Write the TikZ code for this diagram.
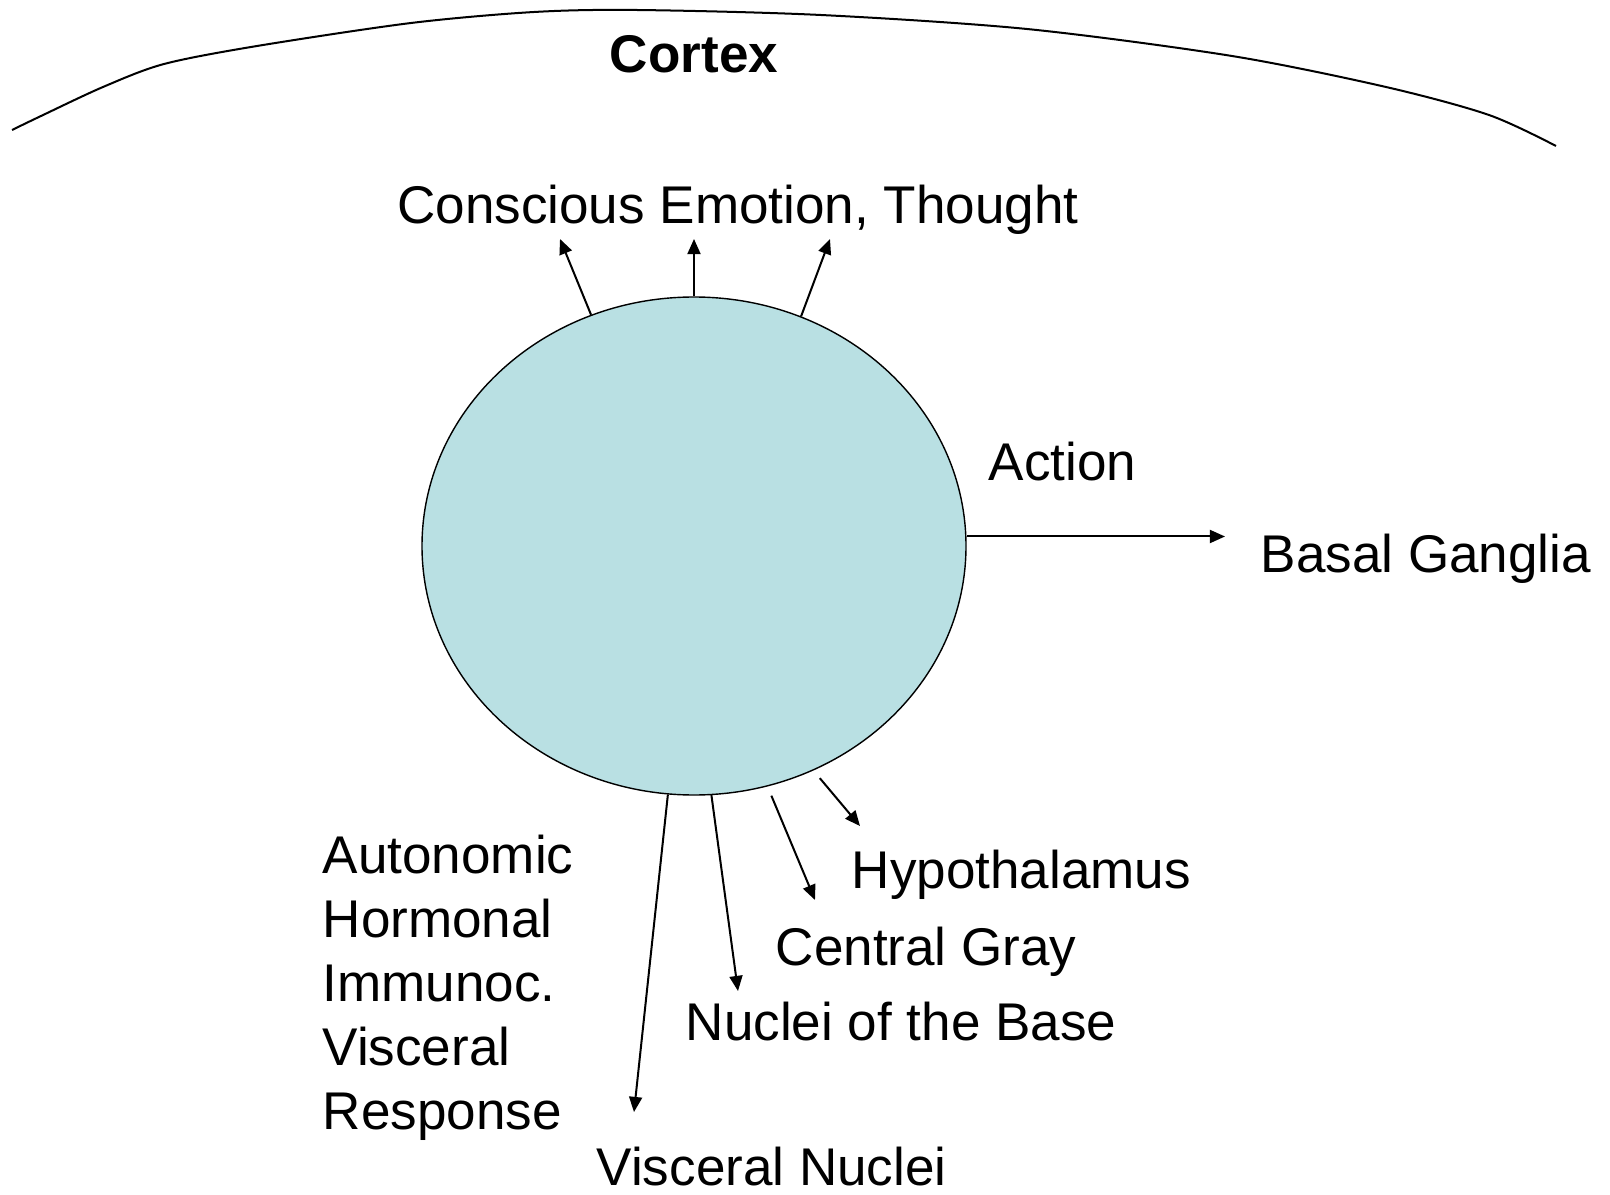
\documentclass[tikz,border=0pt]{standalone}
\usepackage{fontspec}
\setmainfont{Liberation Sans}
\usetikzlibrary{positioning,
        shapes.geometric,
        arrows.meta}
\definecolor{blobfill}{RGB}{185,224,227}

\begin{document}
\begin{tikzpicture}[
        lbl/.style={inner sep=0pt,font=\fontsize{15.1pt}{18.2pt}\selectfont},
        outarrow/.style={-{Triangle[length=4.3pt,width=3.7pt]},line width=0.57pt}]
            \useasboundingbox (0,0) rectangle (16.10,11.94);
            \draw [line width=0.57pt] plot[smooth] coordinates {(0.12,10.64) (0.41,10.78) (1.03,11.07) (1.64,11.30) (2.57,11.48) (4.11,11.71) (5.34,11.82) (6.37,11.84) (8.21,11.79) (10.27,11.65) (12.32,11.38) (13.86,11.07) (14.89,10.79) (15.56,10.48)};

            \node [ellipse,draw,line width=0.4pt,fill=blobfill,inner sep=0pt,minimum width=5.44cm,minimum height=4.98cm] (blob) at (6.94,6.48) {};

            \node [lbl,anchor=base,font=\fontsize{15.1pt}{18.2pt}\selectfont\bfseries] (cortex) at (6.94,11.21) {Cortex};
            \node [lbl,anchor=base] (conscious) at (7.38,9.70) {Conscious Emotion, Thought};
            \node [lbl,anchor=base west] (action) at (9.88,7.13) {Action};
            \node [lbl,anchor=base west] (basal) at (12.60,6.22) {Basal Ganglia};
            \node [lbl,anchor=base west] (hypo) at (8.51,3.06) {Hypothalamus};
            \node [lbl,anchor=base west] (gray) at (7.75,2.29) {Central Gray};
            \node [lbl,anchor=base west] (base) at (6.85,1.54) {Nuclei of the Base};
            \node [lbl,anchor=base west] (visc) at (5.96,0.09) {Visceral Nuclei};
            \node [lbl,anchor=west,align=left] (resp) at (3.22,2.06) {Autonomic\\Hormonal\\Immunoc.\\Visceral\\Response};

            \coordinate (up1) at (5.60,9.55);
            \coordinate (up2) at (6.94,9.55);
            \coordinate (up3) at (8.30,9.55);
            \coordinate (act) at (12.25,6.57);
            \coordinate (hypoend) at (8.60,3.68);
            \coordinate (grayend) at (8.15,2.94);
            \coordinate (baseend) at (7.38,2.03);
            \coordinate (viscend) at (6.34,0.82);

            \draw [outarrow] (blob.114.3) -- (up1);
            \draw [outarrow] (blob.90) -- (up2);
            \draw [outarrow] (blob.65.7) -- (up3);
            \draw [outarrow] (blob.2.6) -- (blob.2.6 -| act);
            \draw [outarrow,shorten <=0.1cm] (blob.-62) -- (hypoend);
            \draw [outarrow,shorten <=0.1cm] (blob.-73) -- (grayend);
            \draw [outarrow] (blob.-86.5) -- (baseend);
            \draw [outarrow] (blob.-96.8) -- (viscend);
        \end{tikzpicture}
\end{document}
